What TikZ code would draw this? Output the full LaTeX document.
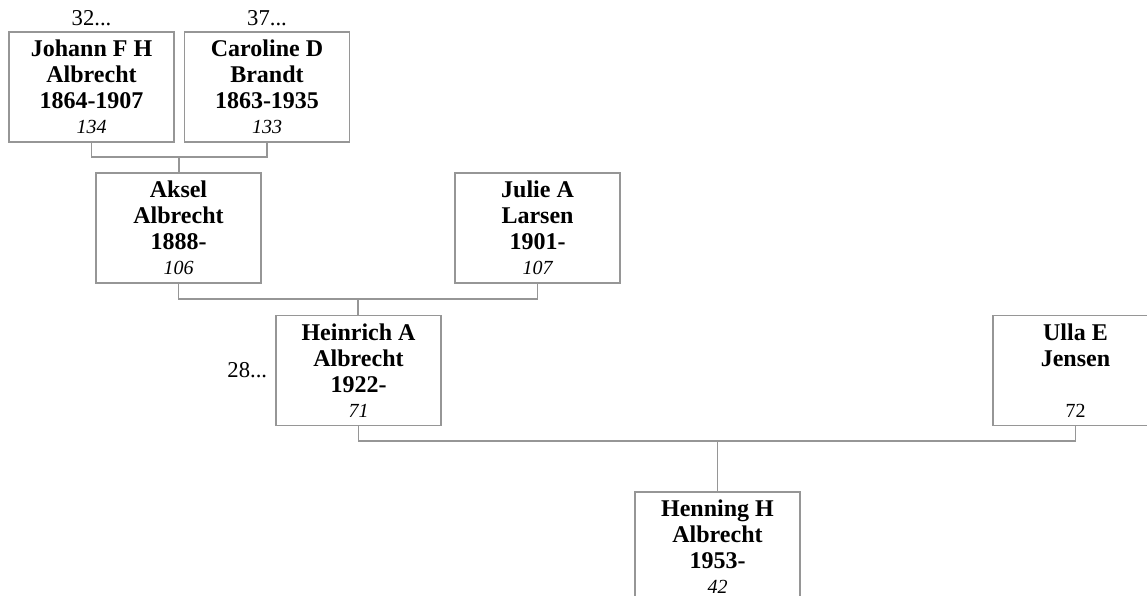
\documentclass[tikz,border=0pt]{standalone}
\usepackage{fontspec}
\setmainfont{Liberation Serif}
\usepackage{tikz}
\usetikzlibrary{positioning}
\definecolor{boxgray}{RGB}{150,150,150}
\newcommand{\recno}[1]{{\fontsize{15}{16}\selectfont\mdseries\itshape #1}}

\begin{document}
\begin{tikzpicture}[x=0.75pt,y=-0.75pt,
       person/.style={draw=boxgray,line width=0.9pt,fill=white,minimum width=123.75pt,minimum height=82.5pt,
              inner sep=0pt,align=center,font=\fontsize{18}{19.5}\selectfont\bfseries},
       link/.style={draw=boxgray,line width=0.9pt},
       ref/.style={inner sep=0pt,font=\fontsize{17}{19.5}\selectfont}]
       \useasboundingbox (0,0) rectangle (1147,596);
       \node[person] (johann) at (91.5,87) {Johann F H\\Albrecht\\1864-1907\\[-1pt]\recno{134}};
       \node[person] (caroline) at (267,87) {Caroline D\\Brandt\\1863-1935\\[-1pt]\recno{133}};
       \node[person] (aksel) at (178.5,228) {Aksel\\Albrecht\\1888-\\[-1pt]\recno{106}};
       \node[person] (julie) at (537.5,228) {Julie A\\Larsen\\1901-\\[-1pt]\recno{107}};
       \node[person] (heinrich) at (358.5,370.5) {Heinrich A\\Albrecht\\1922-\\[-1pt]\recno{71}};
       \node[person] (ulla) at (1075.5,370.5) {Ulla E\\Jensen\\\strut\\[-1pt]{\fontsize{15}{16}\selectfont\mdseries 72}};
       \node[person] (henning) at (717.5,547) {Henning H\\Albrecht\\1953-\\[-1pt]\recno{42}};
       \node[ref,above=4pt of johann] (johannup) {32...};
       \node[ref,above=4pt of caroline] (carolineup) {37...};
       \node[ref,left=6pt of heinrich] (heinrichup) {28...};
       \coordinate (m1) at (179,157);
       \coordinate (m2) at (358,299);
       \coordinate (m3) at (717.5,441);
       \draw[link] (johann.south) |- (m1) -| (caroline.south);
       \draw[link] (m1) -- (m1 |- aksel.north);
       \draw[link] (aksel.south) |- (m2) -| (julie.south);
       \draw[link] (m2) -- (m2 |- heinrich.north);
       \draw[link] (heinrich.south) |- (m3) -| (ulla.south);
       \draw[link] (m3) -- (m3 |- henning.north);
\end{tikzpicture}
\end{document}
